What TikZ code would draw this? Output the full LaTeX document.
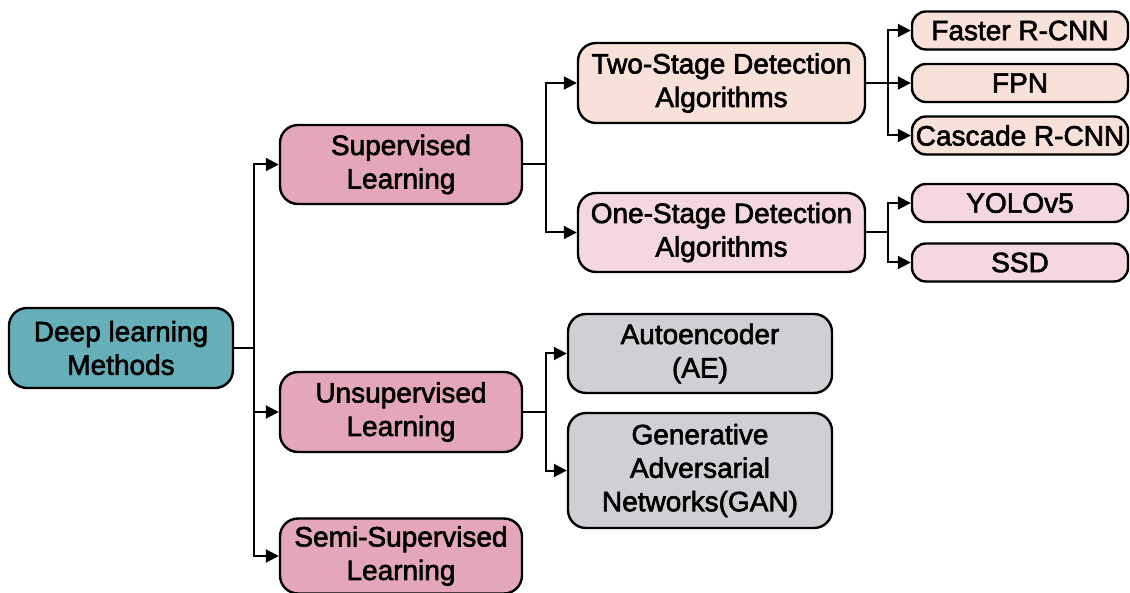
\documentclass[tikz,border=0pt]{standalone}
\usepackage{fontspec}
\setmainfont{Liberation Sans}
\newfontfamily\labelfont{Liberation Sans}[FakeBold=2.2]
\usetikzlibrary{arrows.meta}
\definecolor{tealbox}{HTML}{66AEB8}
\definecolor{pinkbox}{HTML}{E4A6BB}
\definecolor{peachbox}{HTML}{F7E1D9}
\definecolor{lightpink}{HTML}{F4D7E1}
\definecolor{greybox}{HTML}{D1CFD4}
\tikzset{
  box/.style={draw=black, line width=2.4pt, rounded corners=18pt, align=center,
    inner sep=0pt, font=\labelfont\fontsize{28}{33.5}\selectfont},
  leaf/.style={box, rounded corners=14pt, minimum width=216pt, minimum height=38pt},
  link/.style={line width=2pt, -{Triangle[length=13pt,width=13pt]}},
  plain/.style={line width=2pt}
}
\begin{document}
\begin{tikzpicture}[x=1pt,y=-1pt]
\useasboundingbox (0,0) rectangle (1130,593);

% root
\node[box, fill=tealbox, minimum width=224pt, minimum height=80pt] (dl) at (121,348) {Deep learning\\Methods};

% learning paradigms
\node[box, fill=pinkbox, minimum width=242pt, minimum height=79pt] (sup) at (401,164.5) {Supervised\\Learning};
\node[box, fill=pinkbox, minimum width=242pt, minimum height=80pt] (uns) at (401,412) {Unsupervised\\Learning};
\node[box, fill=pinkbox, minimum width=242pt, minimum height=75pt] (semi) at (401,556) {Semi-Supervised\\Learning};

% detection families
\node[box, fill=peachbox, minimum width=287pt, minimum height=80pt] (two) at (721.5,83) {Two-Stage Detection\\Algorithms};
\node[box, fill=lightpink, minimum width=287pt, minimum height=79pt] (one) at (721.5,232.5) {One-Stage Detection\\Algorithms};

% detectors
\node[leaf, fill=peachbox] (frcnn) at (1020,30.5) {Faster R-CNN};
\node[leaf, fill=peachbox] (fpn) at (1020,83) {FPN};
\node[leaf, fill=peachbox] (crcnn) at (1020,135.5) {Cascade R-CNN};
\node[leaf, fill=lightpink] (yolo) at (1020,203) {YOLOv5};
\node[leaf, fill=lightpink] (ssd) at (1020,262.5) {SSD};

% unsupervised models
\node[box, fill=greybox, minimum width=264pt, minimum height=79pt] (ae) at (700,353.5) {Autoencoder\\(AE)};
\node[box, fill=greybox, minimum width=264pt, minimum height=115pt] (gan) at (700,470.5) {Generative\\Adversarial\\Networks(GAN)};

% branch points
\coordinate (j0) at (254,348);
\coordinate (j1) at (546,164.5);
\coordinate (j2) at (888,83);
\coordinate (j3) at (888,232.5);
\coordinate (j4) at (546,412);

% root to paradigms
\draw[plain] (dl.east) -- (j0);
\draw[link] (j0) |- (sup.west);
\draw[link] (j0) |- (uns.west);
\draw[link] (j0) |- (semi.west);

% supervised to families
\draw[plain] (sup.east) -- (j1);
\draw[link] (j1) |- (two.west);
\draw[link] (j1) |- (one.west);

% two-stage detectors
\draw[plain] (two.east) -- (j2);
\draw[link] (j2) |- (frcnn.west);
\draw[link] (j2) -- (fpn.west);
\draw[link] (j2) |- (crcnn.west);

% one-stage detectors
\draw[plain] (one.east) -- (j3);
\draw[link] (j3) |- (yolo.west);
\draw[link] (j3) |- (ssd.west);

% unsupervised models
\draw[plain] (uns.east) -- (j4);
\draw[link] (j4) |- (ae.west);
\draw[link] (j4) |- (gan.west);
\end{tikzpicture}
\end{document}
